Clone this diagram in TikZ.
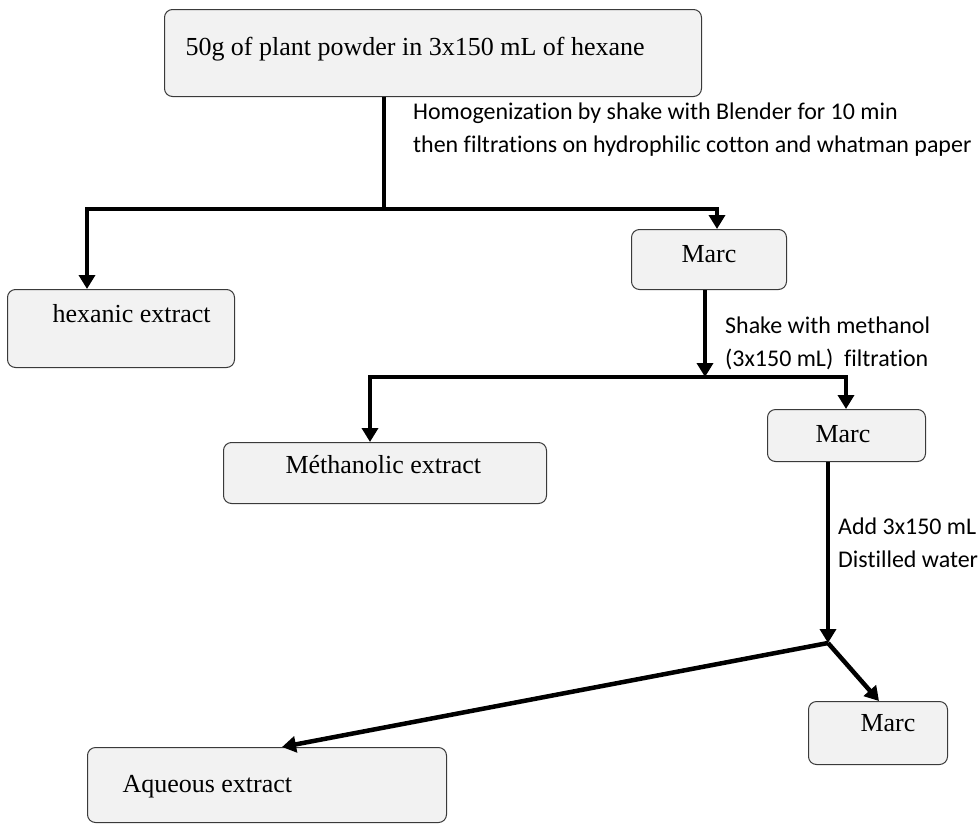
\documentclass[tikz,border=0pt]{standalone}
\usepackage{fontspec}
\setmainfont{Liberation Serif}
\newfontfamily\notefont[Ligatures={NoCommon}]{Carlito}
\usetikzlibrary{arrows.meta}
\definecolor{boxfill}{HTML}{F2F2F2}
\definecolor{boxline}{HTML}{3A3A3A}
\tikzset{
    stage/.style={draw=boxline, line width=1pt, fill=boxfill, rounded corners=8pt,
        anchor=north west, align=flush left, inner sep=0pt,
        font=\fontsize{26}{31}\selectfont},
    textpad/.style={execute at begin node={\hspace*{#1}}},
    flow/.style={line width=4.5pt},
    flowarrow/.style={flow, -{Triangle[width=16pt,length=14pt]}},
    note/.style={anchor=base west, align=flush left, inner sep=0pt,
        font=\notefont\fontsize{23.95}{33}\selectfont},
}
\begin{document}
\begin{tikzpicture}[x=1pt,y=-1pt]
    \useasboundingbox (0,0) rectangle (980,825);
    %% boxes
    \foreach \name/\x/\y/\w/\p/\h/\d/\txt in {
        top/164/9/537/21/46/41/50g of plant powder in 3x150 mL of hexane,
        hexan/7/289/227/45/33/45/hexanic extract,
        marc1/631/229/155/50/33/27/Marc,
        metha/223/442/323/62/31/30/Méthanolic extract,
        marc2/767/409/158/48/33/19/Marc,
        aque/87/747/359/35/45/30/Aqueous extract,
        marc3/808/701/139/52/30/33/Marc}
        \node[stage, text width=\w pt, textpad=\p pt, text height=\h pt, text depth=\d pt]
            (\name) at (\x,\y) {\txt};
    %% branch points
    \coordinate (j1) at (384,209);
    \coordinate (j2) at (705,377);
    \coordinate (j3) at (828,643);
    %% hexane step
    \draw[flow] (top.south -| j1) -- (j1);
    \draw[flowarrow] (j1) -| ([xshift=80pt]hexan.north west);
    \draw[flowarrow] (j1) -| ([xshift=86pt]marc1.north west);
    \node[note] (homog) at (413,152) {Homogenization by shake with Blender for 10 min\\
        then filtrations on hydrophilic cotton and whatman paper};
    %% methanol step
    \draw[flowarrow] (marc1.south -| j2) -- (j2);
    \draw[flowarrow] (j2) -| ([xshift=147pt]metha.north west);
    \draw[flowarrow] (j2) -| ([xshift=79pt]marc2.north west);
    \node[note] (shakemeth) at (725,366) {Shake with methanol\\(3x150 mL)\ \ filtration};
    %% water step
    \draw[flowarrow] (marc2.south -| j3) -- (j3);
    \draw[flowarrow] (j3) -- ([xshift=195pt]aque.north west);
    \draw[flowarrow] (j3) -- ([xshift=71pt]marc3.north west);
    \node[note] (addwater) at (838,567) {Add 3x150 mL\\Distilled water};
\end{tikzpicture}
\end{document}
